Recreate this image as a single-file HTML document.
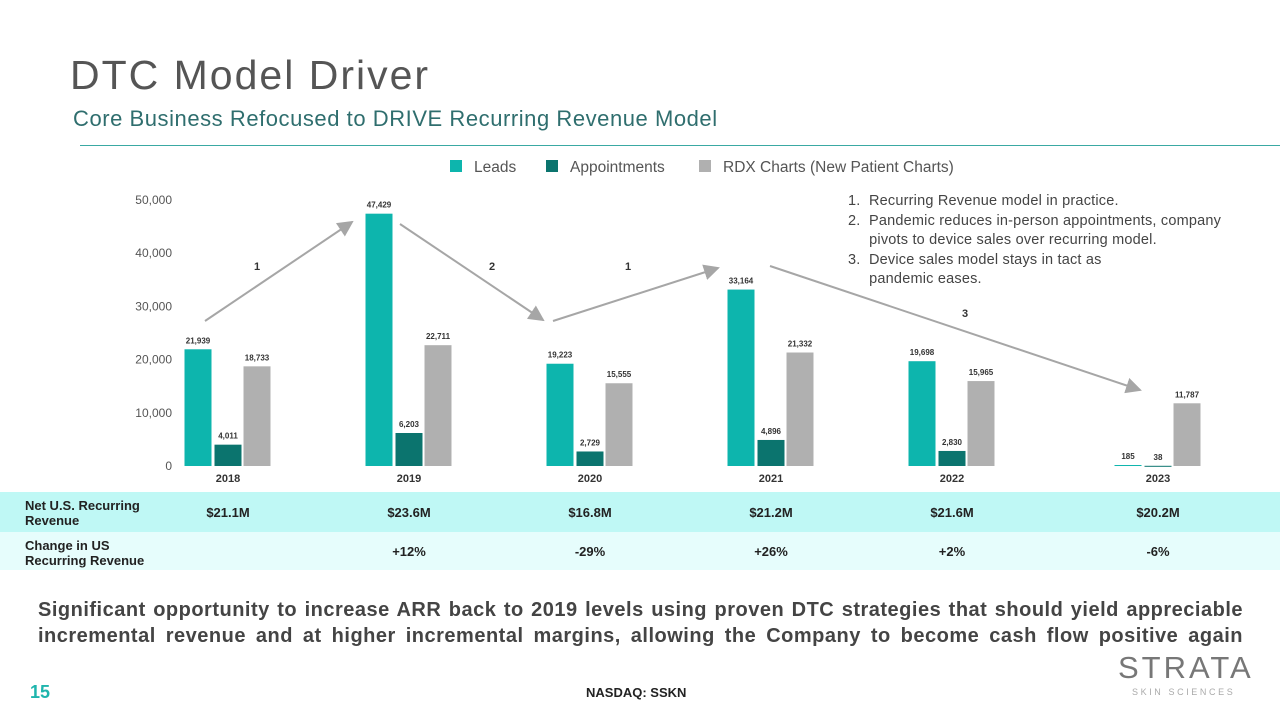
<!DOCTYPE html>
<html><head><meta charset="utf-8"><style>
body{margin:0;width:1280px;height:720px;background:#fff;font-family:"Liberation Sans",sans-serif;position:relative;overflow:hidden}
.a{position:absolute}
.tk{text-align:justify;text-align-last:justify;white-space:nowrap}
</style></head><body>
<div class="a" style="left:0;top:492px;width:1280px;height:40px;background:#bff8f5"></div>
<div class="a" style="left:0;top:532px;width:1280px;height:38px;background:#e6fdfc"></div>
<div class="a" style="left:70px;top:52px;font-size:41px;letter-spacing:2px;color:#555">DTC Model Driver</div>
<div class="a" style="left:73px;top:106px;font-size:22px;letter-spacing:0.55px;color:#2f6e6e">Core Business Refocused to DRIVE Recurring Revenue Model</div>
<div class="a" style="left:80px;top:145px;width:1200px;height:1px;background:#3aa9a3"></div>
<div class="a" style="left:848px;top:192px;font-size:14.5px;letter-spacing:0.2px;color:#444;line-height:19.5px;width:432px">
<div>1.&nbsp; Recurring Revenue model in practice.</div>
<div>2.&nbsp; Pandemic reduces in-person appointments, company<br>&nbsp;&nbsp;&nbsp;&nbsp; pivots to device sales over recurring model.</div>
<div>3.&nbsp; Device sales model stays in tact as<br>&nbsp;&nbsp;&nbsp;&nbsp; pandemic eases.</div></div>
<div class="a" style="left:25px;top:498px;font-size:13px;font-weight:bold;color:#222;line-height:15px">Net U.S. Recurring<br>Revenue</div>
<div class="a" style="left:25px;top:538px;font-size:13px;font-weight:bold;color:#222;line-height:15px">Change in US<br>Recurring Revenue</div>
<svg class="a" style="left:0;top:0" width="1280" height="720" id="chart"></svg>
<div class="a" style="left:38px;top:597px;width:1205px;font-size:20px;letter-spacing:0.5px;font-weight:bold;color:#444;line-height:26px">
<div class="tk">Significant opportunity to increase ARR back to 2019 levels using proven DTC strategies that should yield appreciable</div>
<div class="tk">incremental revenue and at higher incremental margins, allowing the Company to become cash flow positive again</div></div>
<div class="a" style="left:30px;top:682px;font-size:18px;font-weight:bold;color:#1fb5ad">15</div>
<div class="a" style="left:586px;top:685px;font-size:13px;font-weight:bold;color:#222">NASDAQ: SSKN</div>
<div class="a" style="left:1118px;top:650px;font-size:31px;letter-spacing:3px;color:#777">STRATA</div>
<div class="a" style="left:1132px;top:687px;font-size:9px;letter-spacing:2.6px;color:#aaa">SKIN SCIENCES</div>
<script>
const categories=["2018","2019","2020","2021","2022","2023"];
const leads=[21939,47429,19223,33164,19698,185];
const appts=[4011,6203,2729,4896,2830,38];
const rdx=[18733,22711,15555,21332,15965,11787];
const yTicks=[0,10000,20000,30000,40000,50000];
const revenue=["$21.1M","$23.6M","$16.8M","$21.2M","$21.6M","$20.2M"];
const change=["","+12%","-29%","+26%","+2%","-6%"];
const NS="http://www.w3.org/2000/svg",svg=document.getElementById('chart');
function y(v){return 466-v*266/50000;}
function xc(i){return i<5?228+i*181:1158;}
function el(t,a,txt){const e=document.createElementNS(NS,t);for(const k in a)e.setAttribute(k,a[k]);if(txt!==undefined)e.textContent=txt;svg.appendChild(e);return e;}
const fmt=v=>v.toLocaleString('en-US');
yTicks.forEach(t=>{const e=el('text',{x:172,y:y(t)+4,'text-anchor':'end','font-size':12,fill:'#555'},fmt(t));
});
const series=[[leads,'#0db5ad',-30],[appts,'#0b746e',0],[rdx,'#b0b0b0',29]];
categories.forEach((c,i)=>{
 const t=el('text',{x:xc(i),y:482,'text-anchor':'middle','font-size':11,'font-weight':'bold',fill:'#333'},c);
 
 series.forEach(([arr,col,off])=>{const cx=xc(i)+off,v=arr[i];
  const r=el('rect',{x:cx-13.5,y:y(v),width:27,height:Math.max(466-y(v),1),fill:col});
  
  const l=el('text',{x:cx,y:y(v)-6,'text-anchor':'middle','font-size':8,'font-weight':'bold',fill:'#333'},fmt(v));
  });
 const rv=el('text',{x:xc(i),y:517,'text-anchor':'middle','font-size':13,'font-weight':'bold',fill:'#222'},revenue[i]);
 
 const cv=el('text',{x:xc(i),y:556,'text-anchor':'middle','font-size':13,'font-weight':'bold',fill:'#222'},change[i]);
 
});
[["Leads",'#0db5ad',450],["Appointments",'#0b746e',546],["RDX Charts (New Patient Charts)",'#b0b0b0',699]].forEach(([n,c,x])=>{
 const r=el('rect',{x:x,y:160,width:12,height:12,fill:c});
 const t=el('text',{x:x+24,y:172,'font-size':15.5,fill:'#555'},n);});
el('defs',{}).innerHTML='<marker id="ah" markerWidth="8" markerHeight="8" refX="7" refY="4" orient="auto"><path d="M0,0L8,4L0,8z" fill="#a6a6a6"/></marker>';
[[205,321,352,222,"1",257,270],[400,224,543,320,"2",492,270],[553,321,718,268,"1",628,270],[770,266,1140,390,"3",965,317]].forEach(a=>{
 const l=el('line',{x1:a[0],y1:a[1],x2:a[2],y2:a[3],stroke:'#a6a6a6','stroke-width':2,'marker-end':'url(#ah)'});
 
 const t=el('text',{x:a[5],y:a[6],'text-anchor':'middle','font-size':11,'font-weight':'bold',fill:'#333'},a[4]);
 });
</script>
</body></html>
